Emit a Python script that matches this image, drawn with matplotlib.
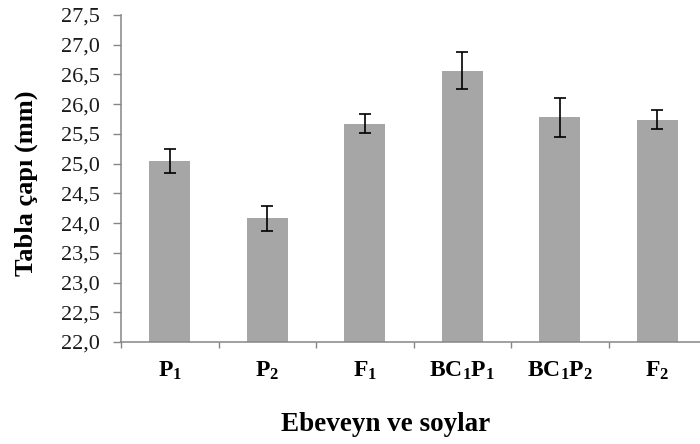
import matplotlib
matplotlib.use('Agg')
import matplotlib.pyplot as plt
import numpy as np
from matplotlib.ticker import FuncFormatter

plt.rcParams['font.family'] = ['Liberation Serif', 'DejaVu Serif']
plt.rcParams['mathtext.fontset'] = 'custom'
plt.rcParams['mathtext.bf'] = 'Liberation Serif:bold'
plt.rcParams['mathtext.rm'] = 'Liberation Serif:bold'
plt.rcParams['mathtext.default'] = 'bf'

# ebeveyn ve soylar - tabla çapı ortalamaları ve hataları
groups = ['P$_1$', 'P$_2$', 'F$_1$', 'BC$_1$P$_1$', 'BC$_1$P$_2$', 'F$_2$']
means = [25.05, 24.08, 25.67, 26.56, 25.78, 25.74]
errors = [0.20, 0.21, 0.16, 0.31, 0.33, 0.16]
y_ticks = np.arange(22.0, 27.51, 0.5)

fig = plt.figure(figsize=(7, 4.44), dpi=100)
ax = fig.add_axes([121 / 700, 102 / 444, 585 / 700, 327 / 444])

x = np.arange(len(groups))
ax.bar(x, means, width=0.42, color='#a6a6a6', zorder=2)
ax.errorbar(x, means, yerr=errors, fmt='none', ecolor='black',
            elinewidth=1.2, capsize=4.2, capthick=1.2, zorder=3)

ax.set_ylim(22.0, 27.5)
ax.set_xlim(-0.5, len(groups) - 0.5)
ax.set_yticks(y_ticks)
ax.yaxis.set_major_formatter(FuncFormatter(lambda v, p: f'{v:.1f}'.replace('.', ',')))

ax.set_xticks(x)
ax.set_xticklabels(groups, fontsize=17, fontweight='bold')
ax.set_xticks(np.arange(-0.5, len(groups), 1.0), minor=True)
ax.tick_params(axis='x', which='major', length=0, pad=13)
ax.tick_params(axis='x', which='minor', length=4, width=1, color='#868686', direction='out')
ax.tick_params(axis='y', length=6, width=1, color='#868686', direction='out',
               labelsize=16, pad=9, labelcolor='#1a1a1a')

for s in ['top', 'right']:
    ax.spines[s].set_visible(False)
for s in ['left', 'bottom']:
    ax.spines[s].set_color('#868686')
    ax.spines[s].set_linewidth(1.1)

fig.text(386 / 700, 1 - 424 / 444, 'Ebeveyn ve soylar', ha='center', va='center',
         fontsize=19.5, fontweight='bold')
fig.text(26 / 700, 1 - 183 / 444, 'Tabla çapı (mm)', ha='center', va='center',
         rotation=90, fontsize=19, fontweight='bold')

fig.savefig('out.png', dpi=100)
